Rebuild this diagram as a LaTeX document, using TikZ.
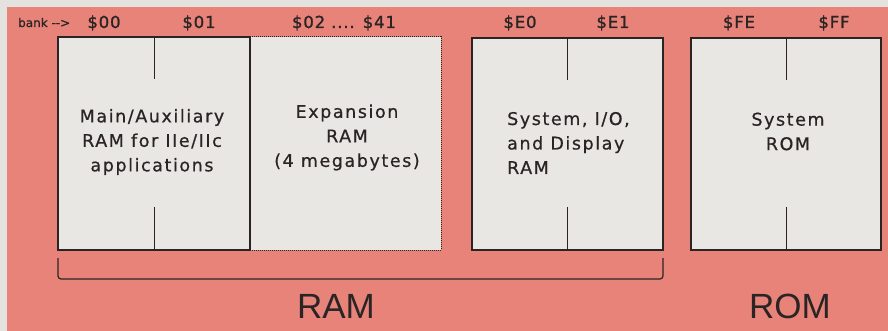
\documentclass[tikz,border=0pt]{standalone}
\usepackage{fontspec}
\setmainfont{DejaVu Sans}
\newfontfamily\boxfont[LetterSpace=9,FakeBold=0.7]{DejaVu Sans}
\newfontfamily\lblfont[LetterSpace=5,FakeBold=1.4]{DejaVu Sans}
\newfontfamily\smallfont[FakeBold=0.8]{DejaVu Sans}
\newfontfamily\bigfont{Liberation Sans}
\usetikzlibrary{calc}
\definecolor{outergray}{HTML}{E4E2DE}
\definecolor{salmon}{HTML}{E8837A}
\definecolor{boxgray}{HTML}{E9E7E3}
\definecolor{ink}{HTML}{2A2424}
\begin{document}
\begin{tikzpicture}[x=1pt,y=-1pt,
  bankbox/.style={fill=boxgray,minimum height=213pt,inner sep=0pt,outer sep=0pt},
  edge/.style={draw=ink,line width=1.2pt},
  dotedge/.style={draw=ink,line width=1pt,dash pattern=on 1pt off 1pt},
  boxtext/.style={font=\boxfont\fontsize{17.5}{24.5}\selectfont,text=ink,inner sep=0pt},
  banklbl/.style={font=\lblfont\fontsize{16.5}{19}\selectfont,text=ink,inner sep=0pt},
  biglbl/.style={font=\bigfont\fontsize{35}{40}\selectfont,text=ink,inner sep=0pt}]
\useasboundingbox (0,0) rectangle (888,331);
\fill[outergray] (0,0) rectangle (888,331);
\fill[salmon] (7,7) rectangle (888,331);
% boxes
\node[bankbox,minimum width=192pt] (b1) at (154,143.5) {};
\node[bankbox,minimum width=191pt] (b2) at (345.5,143.5) {};
\node[bankbox,minimum width=191pt,minimum height=212pt] (b3) at (567.5,144) {};
\node[bankbox,minimum width=190pt,minimum height=212pt] (b4) at (786,144) {};
\draw[dotedge] (b2.north west) -- (b2.north east) -- (b2.south east) -- (b2.south west);
\draw[edge] (b1.north west) rectangle (b1.south east);
\draw[edge] (b3.north west) rectangle (b3.south east);
\draw[edge] (b4.north west) rectangle (b4.south east);
% dividers
\foreach \b in {b1,b3,b4}{
  \draw[edge,line width=1pt] (\b.north) -- ++(0,42);
  \draw[edge,line width=1pt] (\b.south) -- ++(0,-43);
}
% texts
\node[boxtext,align=center] (t1) at (152,142) {Main/Auxiliary\\RAM for IIe/IIc\\applications};
\node[boxtext,align=center] (t2) at (347,137.5) {Expansion\\RAM\\(4 megabytes)};
\node[boxtext,align=left,anchor=west] (t3) at (507,143) {System, I/O,\\and Display\\RAM};
\node[boxtext,align=center] (t4) at (788,131.5) {System\\ROM};
% top labels
\node[font=\smallfont\fontsize{12}{14}\selectfont,text=ink,inner sep=0pt,anchor=base west] (bk) at (18,27) {bank -{}-{}>};
\node[banklbl,anchor=base] (l00) at (104,28) {\$00};
\node[banklbl,anchor=base] (l01) at (199,28) {\$01};
\node[banklbl,anchor=base] (l02) at (344,28) {\$02 .... \$41};
\node[banklbl,anchor=base] (le0) at (520,28) {\$E0};
\node[banklbl,anchor=base] (le1) at (613,28) {\$E1};
\node[banklbl,anchor=base] (lfe) at (739,28) {\$FE};
\node[banklbl,anchor=base] (lff) at (834,28) {\$FF};
% bracket
\coordinate (brl) at ($(b1.south west)+(0,8)$);
\coordinate (brr) at ($(b3.south east)+(0,8)$);
\draw[edge,rounded corners=3pt] (brl) -- ++(0,21) -| (brr);
\node[biglbl,anchor=base] (ram) at (336,318) {RAM};
\node[biglbl,anchor=base] (rom) at (790,318) {ROM};
\end{tikzpicture}
\end{document}
